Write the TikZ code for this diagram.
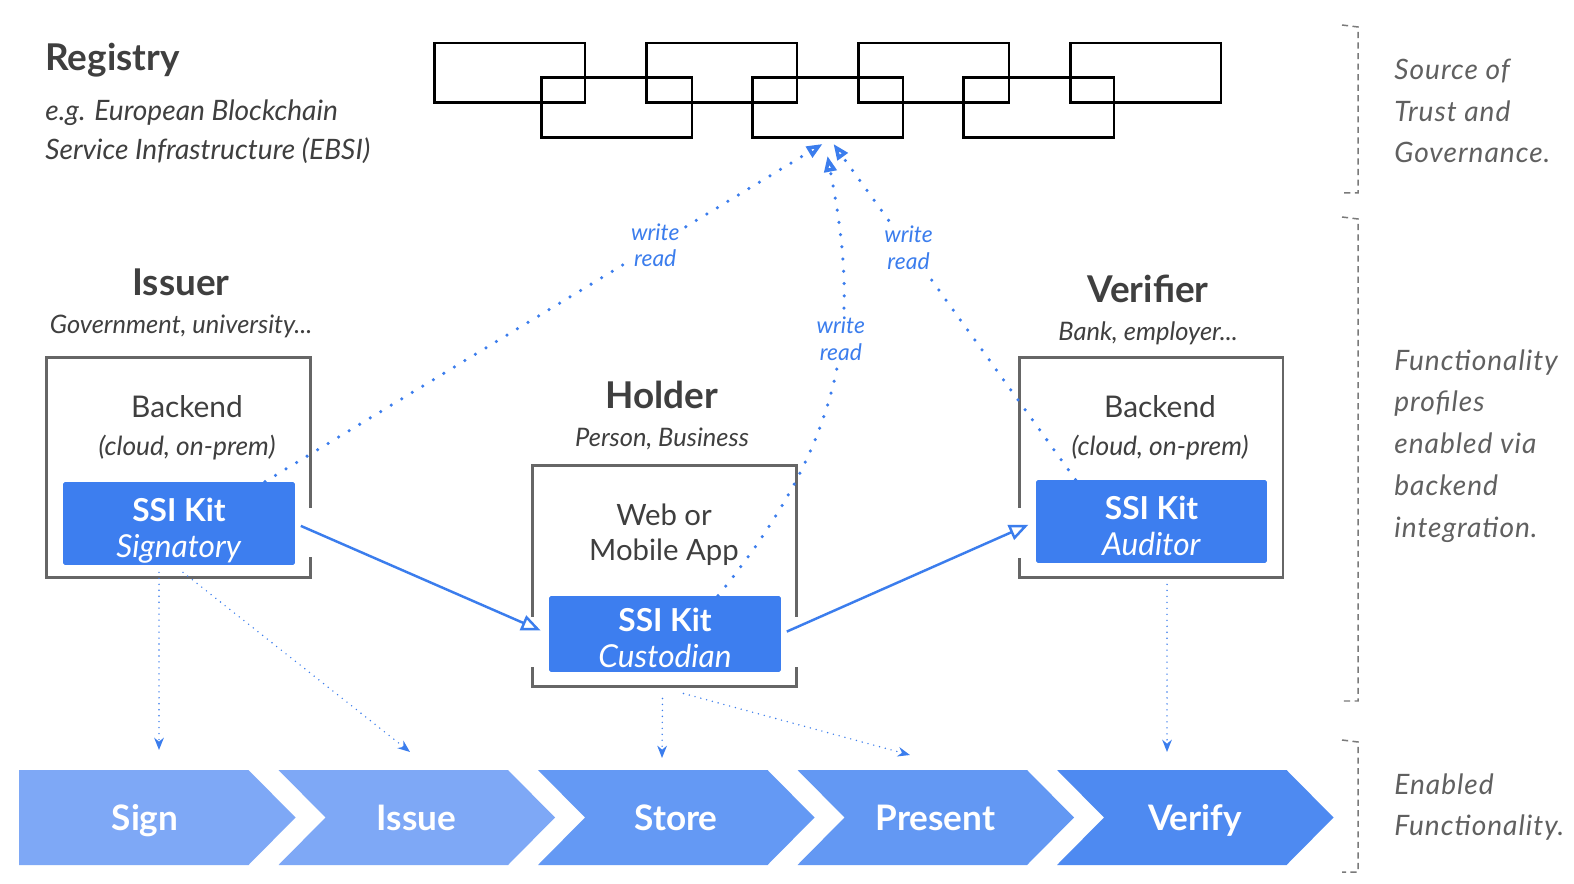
\documentclass[tikz,border=0pt]{standalone}
\usepackage{fontspec}
\setmainfont{Lato}
\newfontfamily\notefont[LetterSpace=3.5]{Lato}
\usetikzlibrary{arrows.meta, calc, positioning}

\definecolor{kitblue}{HTML}{3D7EEF}
\definecolor{flowblue}{HTML}{3B7DED}
\definecolor{darktext}{HTML}{3F3F3F}
\definecolor{framegray}{HTML}{666666}
\definecolor{notegray}{HTML}{606060}
\definecolor{brkgray}{HTML}{7A7A7A}
\definecolor{chA}{HTML}{7EA8F6}
\definecolor{chB}{HTML}{7EA8F6}
\definecolor{chC}{HTML}{6499F4}
\definecolor{chD}{HTML}{6398F3}
\definecolor{chE}{HTML}{4E8AF1}

\newcommand{\kitLines}[1]{\rule{0pt}{18pt}\textbf{SSI Kit}\\\smash{\textit{#1}}}

\begin{document}
\begin{tikzpicture}[x=0.02cm, y=-0.02cm,
        chainBlock/.style={draw=black, line width=1.7pt, minimum width=3.02cm, minimum height=1.2cm, inner sep=0pt},
        heading/.style={text=darktext, font=\fontsize{21}{25}\selectfont\bfseries},
        subHead/.style={text=darktext, font=\fontsize{14.5}{17}\selectfont\itshape},
        frameBox/.style={draw=framegray, line width=1.7pt, minimum width=5.3cm, minimum height=4.42cm, inner sep=0pt},
        backText/.style={text=darktext, align=center, font=\fontsize{17}{21.5}\selectfont},
        kitBox/.style={fill=kitblue, text=white, rounded corners=1pt, minimum width=4.64cm, minimum height=1.66cm, inner sep=0pt, align=center, font=\fontsize{18}{20.5}\selectfont},
        gapLine/.style={draw=white, line width=3pt},
        flowArrow/.style={draw=flowblue, line width=1.4pt, -{Triangle[open, length=11pt, width=9pt]}},
        rwArrow/.style={draw=flowblue, line width=2pt, line cap=round, dash pattern=on 0pt off 7pt, -{Triangle[open, length=9pt, width=7pt]}},
        rwLabel/.style={fill=white, text=flowblue, align=center, inner sep=2pt, font=\fontsize{13}{15.3}\selectfont\itshape},
        fnArrow/.style={draw=flowblue, line width=0.9pt, line cap=round, dash pattern=on 0pt off 3.4pt, -{Stealth[length=7pt, width=5.5pt]}},
        chText/.style={text=white, minimum height=1.9cm, text height=14.4pt, text depth=0pt, font=\fontsize{20}{23}\selectfont\bfseries},
        bracket/.style={draw=brkgray, line width=0.85pt, dash pattern=on 3.5pt off 2.5pt},
        sideNote/.style={anchor=west, align=left, inner sep=0pt, text=notegray, font=\notefont\fontsize{16}{23.8}\selectfont\itshape}
    ]
        \fill[white] (0,0) rectangle (1574,884);
        \useasboundingbox (0,0) rectangle (1574,884);

        % registry chain
        \foreach \i in {0,...,3}
            \node[chainBlock] (top\i) at (509.5+212*\i,73) {};
        \foreach \i in {0,...,2}
            \node[chainBlock] (bot\i) at (616.5+211*\i,107.5) {};
        \node[heading, anchor=west, inner sep=0pt] (regTitle) at (45,60) {Registry};
        \node[subHead, anchor=west, align=left, inner sep=0pt, font=\fontsize{16}{22}\selectfont\itshape] (regSub) at (45,131.5)
            {e.g. European Blockchain\\Service Infrastructure (EBSI)};

        % issuer
        \node[heading] (issTitle) at (181,282) {Issuer};
        \node[subHead] (issSub) at (181,326) {Government, university...};
        \node[frameBox] (issBox) at (178.5,467.5) {};
        \node[backText] (issBack) at (187,428) {Backend\\\fontsize{15}{21.5}\selectfont\textit{(cloud, on-prem)}};
        \node[kitBox] (issKit) at (179,523.5) {\kitLines{Signatory}};
        \draw[gapLine] (311,508) -- (311,557);

        % holder
        \node[heading] (holdTitle) at (662,395) {Holder};
        \node[subHead] (holdSub) at (662,439) {Person, Business};
        \node[frameBox, minimum height=4.44cm] (custBox) at (664.5,576) {};
        \node[backText, font=\fontsize{16.7}{20}\selectfont] (custApp) at (664,535) {Web or\\Mobile App};
        \node[kitBox, minimum height=1.52cm] (custKit) at (665,634) {\kitLines{Custodian}};
        \draw[gapLine] (532,617) -- (532,667);
        \draw[gapLine] (797,617) -- (797,667);

        % verifier
        \node[heading] (verTitle) at (1148,289) {Verifier};
        \node[subHead] (verSub) at (1148,333) {Bank, employer...};
        \node[frameBox, minimum width=5.28cm] (audBox) at (1151,467.5) {};
        \node[backText] (audBack) at (1160,428) {Backend\\\fontsize{15}{21.5}\selectfont\textit{(cloud, on-prem)}};
        \node[kitBox, minimum width=4.62cm] (audKit) at (1151.5,521.5) {\kitLines{Auditor}};
        \draw[gapLine] (1019,508) -- (1019,558);

        % credential flow
        \draw[flowArrow, shorten <=3.4pt, shorten >=5pt] (issKit.east) -- (custKit.west);
        \draw[flowArrow, shorten <=3.4pt, shorten >=4.5pt] (custKit.east) -- (audKit.west);

        % write / read to the registry
        \draw[rwArrow] ($(issKit.north)+(86,0)$) -- ($(bot1.south)+(-5,5)$)
            node[rwLabel, pos=0.70] {write\\read};
        \draw[rwArrow] ($(custKit.north)+(53,0)$) .. controls (862,420) and (855,300) .. ($(bot1.south)+(0,17)$)
            node[rwLabel, pos=0.56] {write\\read};
        \draw[rwArrow] ($(audKit.north)+(-76,0)$) -- ($(bot1.south)+(6,5)$)
            node[rwLabel, pos=0.69] {write\\read};

        % enabled functionality
        \fill[chA] (19,770) -- ++(229.5,0) -- ++(47,47.5) -- ++(-47,47.5) -- ++(-229.5,0) -- cycle;
        \node[chText] (chSign) at (145,817.5) {Sign};
        \foreach \i/\nm/\txt/\col in {1/chIssue/Issue/chB, 2/chStore/Store/chC, 3/chPresent/Present/chD, 4/chVerify/Verify/chE}
        {
            \pgfmathsetmacro\L{19+259.5*\i}
            \fill[\col] (\L,770) -- ++(229.5,0) -- ++(47,47.5) -- ++(-47,47.5) -- ++(-229.5,0) -- ++(47,-47.5) -- cycle;
            \node[chText] (\nm) at (\L+138,817.5) {\txt};
        };

        \coordinate (tSign) at (159,750);
        \coordinate (tIssue) at (410,752);
        \coordinate (tStore) at (662,758);
        \coordinate (tPresent) at (910,755);
        \coordinate (tVerify) at (1167,752);
        \draw[fnArrow] ($(issKit.south)+(-20,7)$) -- (tSign);
        \draw[fnArrow] ($(issKit.south)+(4,7)$) -- (tIssue);
        \draw[fnArrow] ($(custBox.south)+(-2,10)$) -- (tStore);
        \draw[fnArrow] ($(custBox.south)+(19,5)$) -- (tPresent);
        \draw[fnArrow] ($(audBox.south)+(16,5)$) -- (tVerify);

        % side notes
        \draw[bracket] (1342,25) -- (1358,27) -- (1358,193) -- (1342,193);
        \draw[bracket] (1342,217) -- (1358,219) -- (1358,701) -- (1342,701);
        \draw[bracket] (1342,740) -- (1358,742) -- (1358,872) -- (1342,872);
        \node[sideNote] (noteTrust) at (1394,111) {Source of\\Trust and\\Governance.};
        \node[sideNote] (noteProfiles) at (1394,446) {Functionality\\profiles\\enabled via\\backend\\integration.};
        \node[sideNote] (noteEnabled) at (1394,807) {Enabled\\Functionality.};
    \end{tikzpicture}
\end{document}
